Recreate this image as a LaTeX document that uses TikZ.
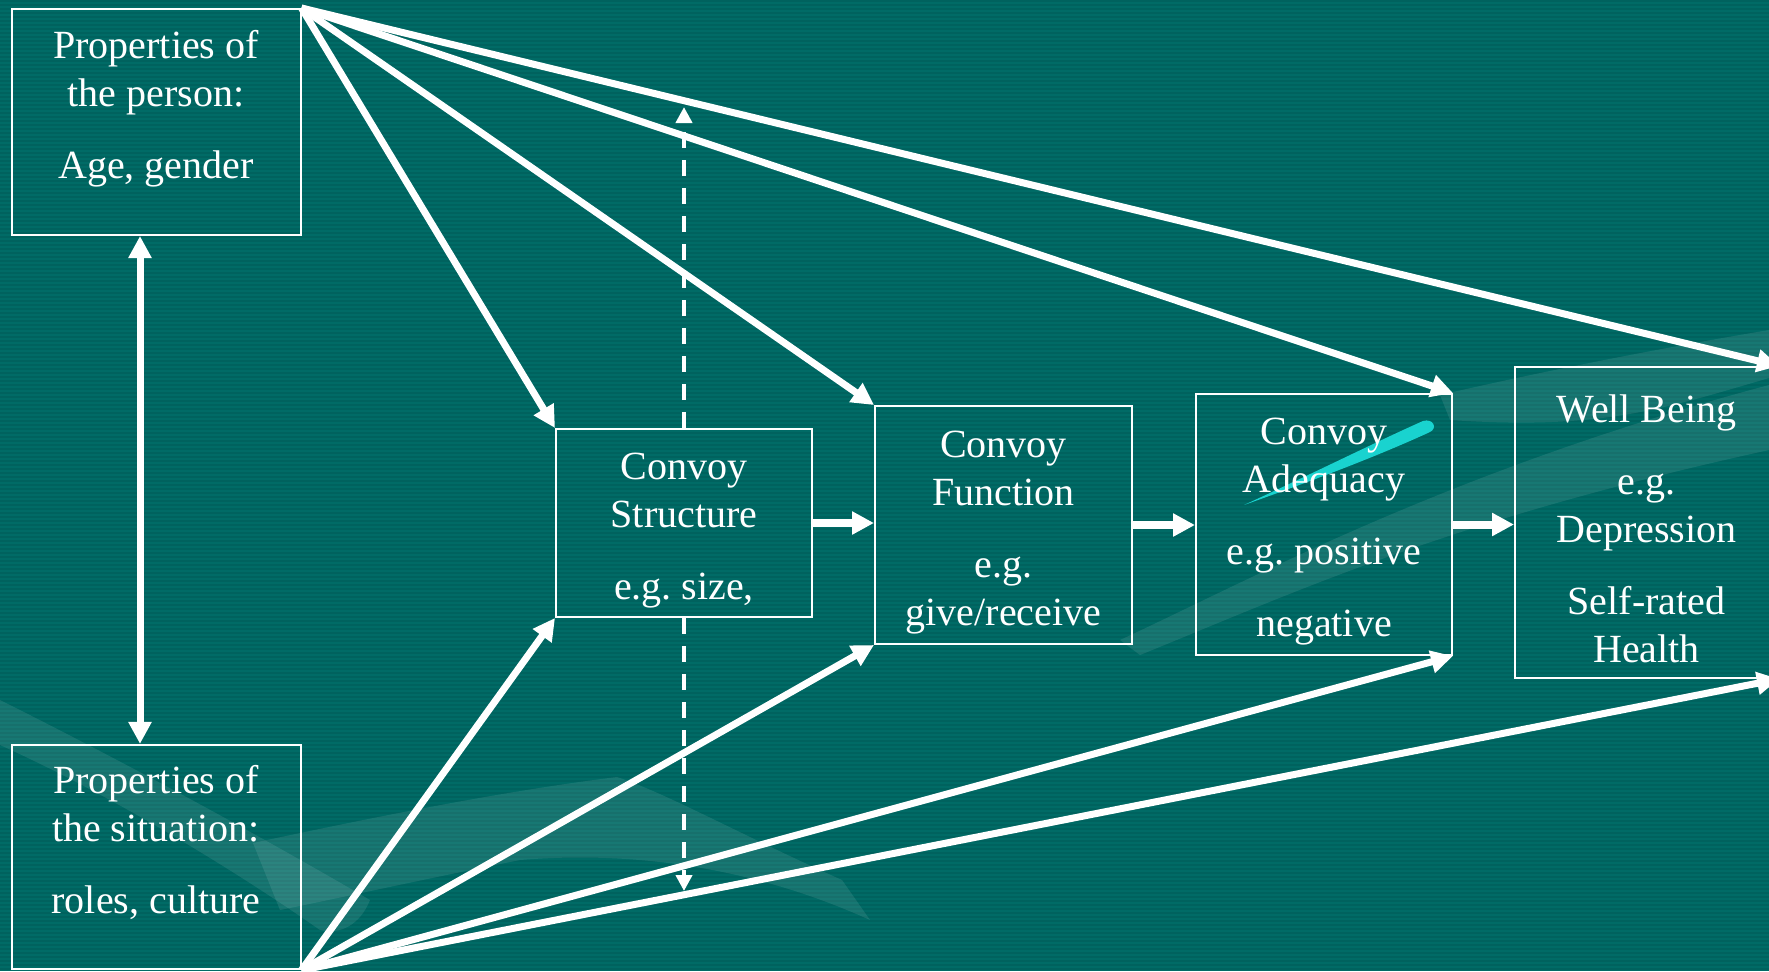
\documentclass[tikz,border=0pt]{standalone}
\usepackage{fontspec}
\setmainfont{Liberation Serif}
\usetikzlibrary{arrows.meta,positioning}
\definecolor{bgteal}{HTML}{006B66}
\definecolor{bgline}{HTML}{00625E}
\definecolor{streak}{HTML}{19D3CF}
\tikzset{
  box/.style={draw=white, line width=1pt, align=center, text=white, font=\fontsize{20}{24}\selectfont\frenchspacing, inner sep=4pt},
  flow/.style={-{Triangle[length=11pt,width=11pt]}, white, line width=3.5pt},
  pass/.style={flow, line width=4pt},
  feedback/.style={-{Triangle[length=8pt,width=8pt]}, white, line width=2pt, dash pattern=on 8pt off 6pt},
  swoosh/.style={fill=white, fill opacity=0.09},
}
\newcommand{\padtop}{\rule{0pt}{20.5pt}}
\newcommand{\padlow}{\rule[-23.6pt]{0pt}{23.6pt}}

\begin{document}
\begin{tikzpicture}[x=0.5pt, y=-0.5pt]
    \useasboundingbox (0,0) rectangle (1769,971);
    % background
    \fill[bgteal] (0,0) rectangle (1769,971);
    \foreach \y in {0,4,...,968}
      \fill[bgline] (0,\y) rectangle (1769,\y+2);
    \fill[swoosh] (0,700) .. controls (120,760) and (250,830) .. (370,900) .. controls (360,925) and (340,935) .. (320,930) .. controls (220,860) and (100,790) .. (0,745) -- cycle;
    \fill[swoosh] (253,843) .. controls (393,813) and (512,790) .. (617,777) .. controls (666,793) and (737,833) .. (842,880) -- (870,920) .. controls (760,870) and (640,850) .. (520,860) .. controls (420,880) and (330,900) .. (280,910) -- cycle;
    \fill[swoosh] (1120,640) .. controls (1250,580) and (1450,470) .. (1769,385) -- (1769,450) .. controls (1450,520) and (1300,590) .. (1140,655) -- cycle;
    \fill[swoosh] (1440,395) .. controls (1540,372) and (1650,350) .. (1769,330) -- (1769,378) .. controls (1660,410) and (1600,430) .. (1450,420) -- cycle;
    \fill[streak] (1244,505) .. controls (1320,470) and (1380,440) .. (1423,421) .. controls (1433,418) and (1438,428) .. (1430,432) .. controls (1380,455) and (1320,478) .. cycle;

    \node[box, minimum width=144.5pt, minimum height=113pt] (person) at (156,122) {\padtop Properties of\\the person:\\[12pt]Age, gender\padlow};
    \node[box, minimum width=144.5pt, minimum height=111pt] (situ) at (156,857) {\padtop Properties of\\the situation:\\[12pt]roles, culture\padlow};
    \node[box, minimum width=128pt, minimum height=94pt] (struct) at (684,523) {\padtop Convoy\\Structure\\[12pt]e.g. size,};
    \node[box, minimum width=128.5pt, minimum height=119pt] (func) at (1003.5,525) {\padtop Convoy\\Function\\[12pt]e.g.\\give/receive};
    \node[box, minimum width=128pt, minimum height=130.5pt] (adeq) at (1324,524.5) {\padtop Convoy\\Adequacy\\[12pt]e.g. positive\\[12pt]negative};
    \node[box, minimum width=131.5pt, minimum height=155.5pt] (well) at (1646.5,522.5) {\padtop Well Being\\[12pt]e.g.\\Depression\\[12pt]Self-rated\\Health};

    \coordinate (dashtop) at (684,107);
    \coordinate (dashbot) at (684,891);

    \draw[flow, {Triangle[length=11pt,width=11pt]}-{Triangle[length=11pt,width=11pt]}] ([xshift=-8pt]person.south) -- ([xshift=-8pt]situ.north);
    \draw[feedback] (struct.north) -- (dashtop);
    \draw[feedback] (struct.south) -- (dashbot);

    \draw[flow] (person.north east) -- (struct.north west);
    \draw[flow] (person.north east) -- (func.north west);
    \draw[flow] (person.north east) -- (adeq.north east);
    \draw[flow] (person.north east) -- (well.north east);
    \draw[flow] (situ.south east) -- (struct.south west);
    \draw[flow] (situ.south east) -- (func.south west);
    \draw[flow] (situ.south east) -- (adeq.south east);
    \draw[flow] (situ.south east) -- (well.south east);

    \draw[pass] (struct.east) -- (struct.east -| func.west);
    \draw[pass] (func.east) -- (func.east -| adeq.west);
    \draw[pass] (adeq.east) -- (adeq.east -| well.west);
\end{tikzpicture}
\end{document}
